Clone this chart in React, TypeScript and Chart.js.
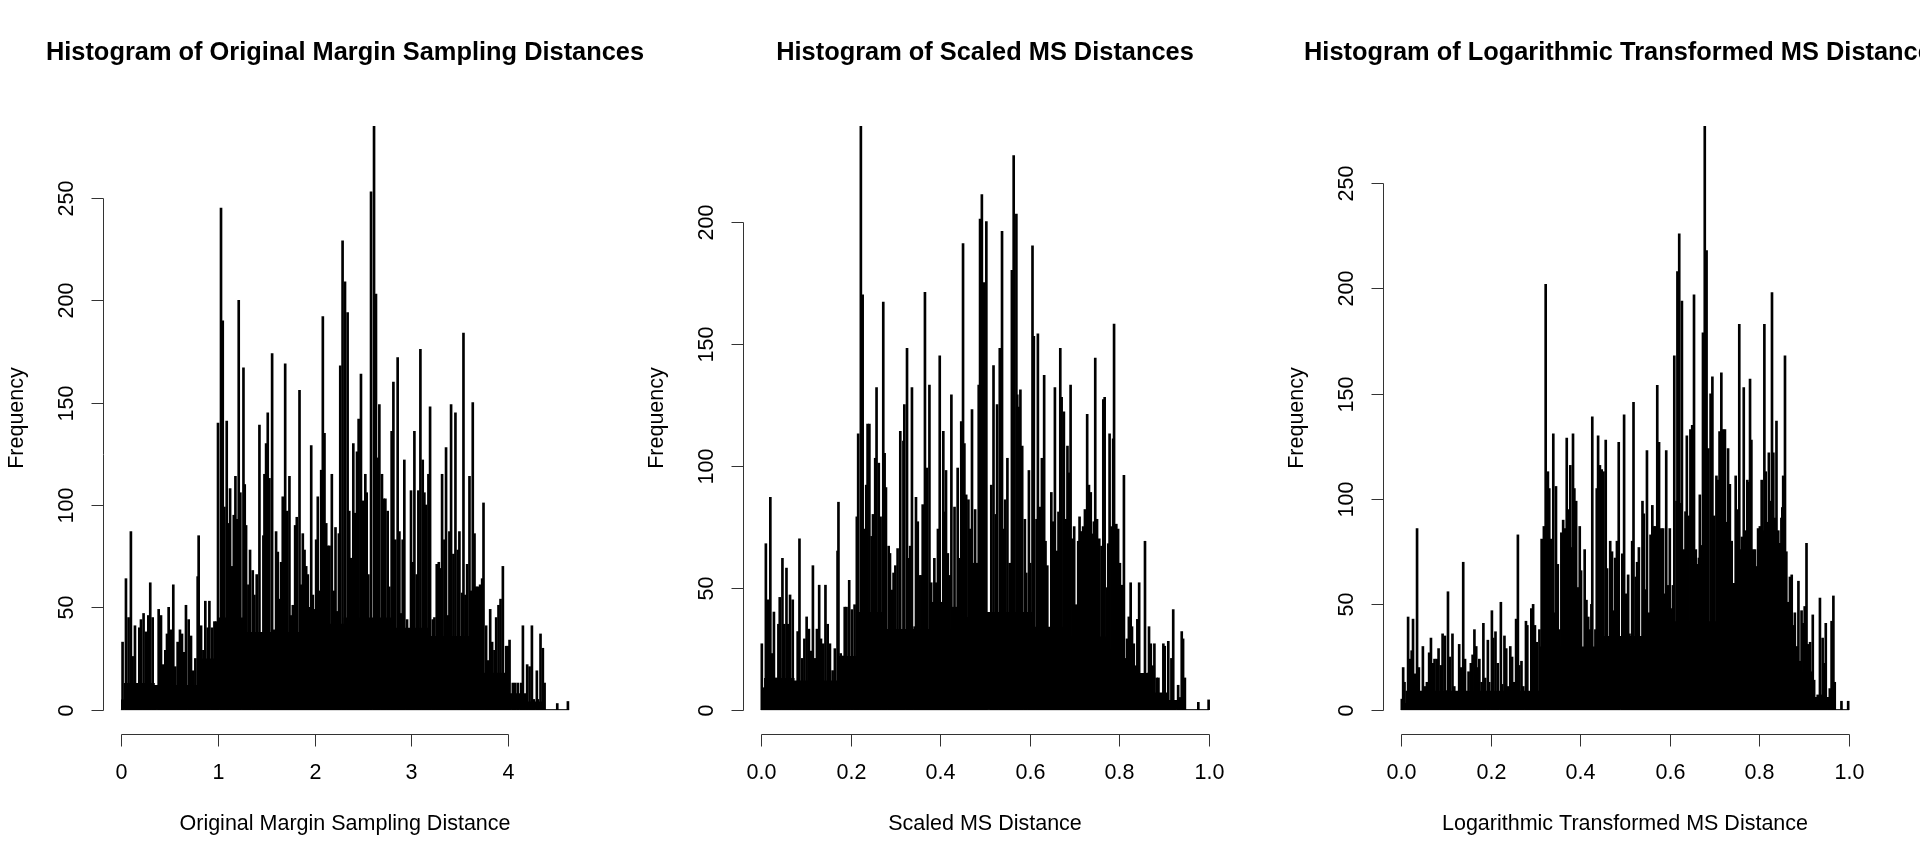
import { useEffect, useRef } from "react"
import { Chart, registerables } from "chart.js"

Chart.register(...registerables)

// ---- panel 1: original margin sampling distances ----
const origX = [
  0.017, 0.052, 0.079, 0.103, 0.121, 0.145, 0.166, 0.19, 0.207, 0.234, 0.259, 0.283, 0.303, 0.328, 0.355, 0.39, 0.414, 0.438, 0.459, 0.476,
  0.493, 0.517, 0.541, 0.562, 0.586, 0.61, 0.631, 0.655, 0.672, 0.7, 0.724, 0.748, 0.769, 0.793, 0.803, 0.828, 0.852, 0.872, 0.897, 0.914,
  0.941, 0.966, 0.983,
  1.003, 1.034, 1.052, 1.069, 1.093, 1.114, 1.128, 1.148, 1.166, 1.183, 1.197, 1.217, 1.234, 1.266, 1.279, 1.293, 1.317, 1.334, 1.362, 1.379,
  1.403, 1.431, 1.455, 1.472, 1.483, 1.5, 1.517, 1.534, 1.562, 1.579, 1.603, 1.621, 1.638, 1.655, 1.672, 1.697, 1.717, 1.741, 1.759, 1.776,
  1.8, 1.817, 1.845, 1.862, 1.879, 1.897, 1.914, 1.931, 1.955, 1.966, 1.983,
  2.0, 2.017, 2.034, 2.052, 2.069, 2.086, 2.103, 2.121, 2.138, 2.155, 2.179, 2.2, 2.217, 2.234, 2.252, 2.266, 2.29, 2.315, 2.342, 2.359,
  2.377, 2.401, 2.418, 2.439, 2.456, 2.48, 2.504, 2.525, 2.539, 2.556, 2.584, 2.615, 2.635, 2.653, 2.67, 2.697, 2.715, 2.732, 2.756, 2.773,
  2.797, 2.815, 2.835, 2.859, 2.877, 2.894, 2.911, 2.928, 2.956, 2.973, 2.997,
  3.015, 3.032, 3.056, 3.073, 3.094, 3.118, 3.135, 3.153, 3.177, 3.194, 3.222, 3.239, 3.263, 3.284, 3.297, 3.318, 3.342, 3.359, 3.377, 3.394,
  3.411, 3.435, 3.456, 3.48, 3.497, 3.525, 3.539, 3.559, 3.577, 3.601, 3.618, 3.635, 3.653, 3.67, 3.687, 3.711, 3.732, 3.746, 3.773, 3.79,
  3.815, 3.835, 3.859, 3.877, 3.901, 3.922, 3.946, 3.963, 3.98, 3.997,
  4.015, 4.049, 4.073, 4.101, 4.135, 4.153, 4.17, 4.197, 4.222, 4.246, 4.266, 4.297, 4.308, 4.335, 4.359, 4.377, 4.508, 4.618,
]
const origCount = [
  33, 64, 45, 87, 26, 41, 12, 40, 44, 47, 38, 46, 62, 45, 8, 49, 46, 22, 29, 37,
  50, 39, 61, 21, 33, 39, 37, 28, 51, 44, 36, 19, 25, 65, 85, 41, 29, 53, 40, 53,
  40, 43, 43,
  140, 245, 190, 99, 141, 91, 108, 70, 95, 114, 93, 200, 106, 167, 110, 90, 61, 78, 68, 56,
  66, 139, 19, 85, 115, 130, 145, 113, 174, 39, 87, 77, 54, 72, 104, 169, 97, 114, 46, 51,
  90, 94, 156, 61, 86, 78, 70, 66, 50, 129, 56,
  49, 83, 104, 58, 117, 192, 135, 91, 80, 80, 115, 58, 89, 48, 86, 168, 229, 209, 194, 97,
  74, 130, 96, 126, 142, 164, 102, 115, 106, 66, 253, 285, 203, 123, 149, 115, 103, 103, 97, 60,
  136, 160, 83, 172, 87, 47, 83, 122, 44, 29, 107,
  72, 136, 66, 107, 176, 122, 106, 100, 115, 148, 44, 45, 71, 72, 69, 115, 83, 128, 46, 87,
  149, 76, 145, 78, 87, 57, 184, 56, 71, 114, 58, 150, 86, 60, 60, 61, 64, 101, 41, 24,
  49, 33, 29, 45, 51, 54, 70, 11, 31, 31,
  34, 13, 13, 13, 13, 41, 6, 22, 21, 41, 5, 19, 5, 37, 30, 13, 3, 4,
]
// dense low part of the histogram (solid black under the spikes)
const origFillEdges = [0, 0.03, 0.35, 0.8, 1.0, 1.3, 1.6, 2.0, 2.3, 2.8, 3.2, 3.6, 3.75, 4.0, 4.2, 4.38]
const origFillLevel = [5, 13, 12, 25, 45, 38, 38, 42, 45, 40, 36, 30, 18, 8, 4]
const origRange = [0, 4.63]
const origXTicks = [0, 1, 2, 3, 4]
const origYTicks = [0, 50, 100, 150, 200, 250]

// ---- panel 2: scaled MS distances ----
const scaledX = [
  0.002, 0.006, 0.011, 0.016, 0.021, 0.025, 0.029, 0.034, 0.039, 0.042, 0.048, 0.052, 0.057, 0.06, 0.065, 0.071, 0.077, 0.082, 0.086, 0.092,
  0.097, 0.102, 0.107, 0.112, 0.116, 0.121, 0.125, 0.13, 0.134, 0.139, 0.144, 0.149, 0.154, 0.16, 0.165, 0.171, 0.173, 0.178, 0.182, 0.187,
  0.191, 0.197, 0.203, 0.209, 0.214, 0.217, 0.223, 0.227, 0.231, 0.235, 0.238, 0.242, 0.247, 0.25, 0.255, 0.258, 0.263, 0.267, 0.273, 0.276,
  0.279, 0.285, 0.288, 0.293, 0.296, 0.3, 0.305, 0.311, 0.314, 0.318, 0.32, 0.326, 0.33, 0.333, 0.337, 0.343, 0.346, 0.35, 0.354, 0.358,
  0.361, 0.366, 0.37, 0.376, 0.38, 0.384, 0.387, 0.391, 0.395, 0.399, 0.402, 0.407, 0.41, 0.413, 0.417, 0.421, 0.425, 0.428, 0.432, 0.436,
  0.439, 0.443, 0.447, 0.451, 0.454, 0.458, 0.463, 0.467, 0.471, 0.474, 0.478, 0.482, 0.486, 0.489, 0.493, 0.498, 0.503,
  0.514, 0.519, 0.524, 0.527, 0.533, 0.538, 0.542, 0.545, 0.55, 0.555, 0.56, 0.564, 0.57, 0.572, 0.576, 0.579, 0.583, 0.589, 0.592, 0.598,
  0.601, 0.606, 0.609, 0.615, 0.618, 0.622, 0.627, 0.632, 0.635, 0.639, 0.644, 0.648, 0.652, 0.656, 0.661, 0.664, 0.668, 0.671, 0.676, 0.68,
  0.684, 0.688, 0.691, 0.695, 0.699, 0.703, 0.708, 0.711, 0.715, 0.719, 0.723, 0.728, 0.732, 0.736, 0.74, 0.743, 0.746, 0.75, 0.755, 0.76,
  0.764, 0.767, 0.773, 0.775, 0.778, 0.782, 0.786, 0.788, 0.793, 0.797, 0.801, 0.805, 0.81, 0.814, 0.817, 0.821, 0.825, 0.828, 0.832, 0.837,
  0.84, 0.844, 0.848, 0.851, 0.853, 0.857, 0.86, 0.864, 0.866, 0.87, 0.874, 0.878, 0.883, 0.887, 0.89, 0.894, 0.898, 0.901, 0.905, 0.909,
  0.913, 0.916, 0.92, 0.924, 0.931, 0.935, 0.939, 0.942, 0.946, 0.976, 0.999,
]
const scaledCount = [
  27, 9, 68, 45, 87, 23, 40, 13, 35, 46, 62, 35, 58, 35, 47, 45, 8, 32, 70, 21,
  29, 38, 33, 24, 59, 21, 33, 51, 29, 27, 51, 35, 27, 16, 25, 65, 85, 23, 22, 42,
  42, 53, 41, 43, 79, 113, 239, 170, 74, 92, 117, 117, 71, 80, 103, 132, 101, 79, 167, 105,
  91, 67, 64, 49, 56, 59, 66, 114, 23, 110, 125, 148, 62, 67, 132, 34, 87, 77, 55, 55,
  84, 171, 99, 133, 52, 44, 62, 52, 74, 145, 44, 114, 81, 98, 64, 55, 129, 42, 83, 42,
  99, 62, 118, 191, 109, 88, 86, 74, 123, 60, 82, 60, 133, 201, 211, 175, 200,
  92, 141, 80, 125, 148, 196, 74, 86, 103, 60, 180, 227, 203, 129, 124, 131, 108, 78, 56, 98,
  60, 190, 153, 78, 154, 83, 103, 137, 69, 59, 26, 89, 77, 132, 65, 81, 148, 128, 122, 78,
  108, 97, 133, 70, 75, 43, 69, 79, 73, 75, 82, 121, 92, 89, 72, 77, 144, 78, 70, 67,
  127, 128, 50, 68, 113, 75, 111, 158, 76, 74, 60, 51, 96, 21, 29, 38, 52, 34, 27, 18,
  37, 52, 11, 9, 9, 69, 12, 15, 34, 27, 18, 27, 13, 13, 6, 2, 27, 26, 4, 28,
  2, 21, 41, 2, 10, 5, 32, 29, 13, 3, 4,
]
const scaledFillEdges = [0, 0.007, 0.075, 0.173, 0.216, 0.28, 0.346, 0.432, 0.497, 0.605, 0.69, 0.777, 0.81, 0.864, 0.907, 0.946]
const scaledFillLevel = [5, 13, 12, 22, 40, 33, 33, 38, 40, 34, 30, 25, 15, 7, 4]
const scaledRange = [0, 1]
const unitXTicks = [0, 0.2, 0.4, 0.6, 0.8, 1.0]
const scaledYTicks = [0, 50, 100, 150, 200]

// ---- panel 3: logarithmic transformed MS distances ----
const logX = [
  0.002, 0.005, 0.008, 0.011, 0.016, 0.02, 0.024, 0.027, 0.031, 0.036, 0.04, 0.045, 0.049, 0.053, 0.058, 0.063, 0.067, 0.071, 0.075, 0.08,
  0.084, 0.089, 0.093, 0.098, 0.101, 0.105, 0.109, 0.115, 0.119, 0.124, 0.13, 0.134, 0.139, 0.143, 0.147, 0.151, 0.156, 0.16, 0.164, 0.168,
  0.171, 0.175, 0.18, 0.184, 0.188, 0.194, 0.197, 0.203, 0.206, 0.211, 0.216, 0.223, 0.226, 0.231, 0.235, 0.239, 0.244, 0.248, 0.253, 0.257,
  0.261, 0.264, 0.269, 0.273, 0.279, 0.282, 0.287, 0.291, 0.295, 0.299, 0.303, 0.309, 0.314, 0.319, 0.323, 0.326, 0.328, 0.331, 0.335, 0.34,
  0.343, 0.346, 0.35, 0.354, 0.358, 0.362, 0.366, 0.37, 0.374, 0.378, 0.38, 0.384, 0.387, 0.391, 0.395, 0.399, 0.402, 0.406, 0.41, 0.414,
  0.418, 0.421, 0.425, 0.427, 0.431, 0.434, 0.437, 0.44, 0.444, 0.448, 0.452, 0.457, 0.46, 0.463, 0.467, 0.471, 0.474, 0.478, 0.482, 0.486,
  0.494, 0.498, 0.503, 0.507, 0.51, 0.516, 0.519, 0.524, 0.527, 0.531, 0.534, 0.539, 0.542, 0.546, 0.549, 0.554, 0.557, 0.561, 0.565, 0.568,
  0.572, 0.576, 0.581, 0.585, 0.589, 0.592, 0.596, 0.6, 0.603, 0.607, 0.61, 0.615, 0.617, 0.621, 0.624, 0.627, 0.631, 0.635, 0.638, 0.642,
  0.646, 0.65, 0.654, 0.658, 0.661, 0.665, 0.667, 0.67, 0.674, 0.678, 0.682, 0.686, 0.691, 0.695, 0.699, 0.704, 0.708, 0.711, 0.715, 0.719,
  0.723, 0.726, 0.73, 0.734, 0.738, 0.743, 0.747, 0.751, 0.755, 0.758, 0.761, 0.765, 0.769, 0.773, 0.776, 0.779, 0.782, 0.786, 0.79, 0.793,
  0.797, 0.801, 0.805, 0.808, 0.811, 0.814, 0.817, 0.821, 0.824, 0.828, 0.831, 0.835, 0.838, 0.842, 0.846, 0.849, 0.851, 0.853, 0.857, 0.86,
  0.864, 0.868, 0.872, 0.875, 0.879, 0.883, 0.887, 0.89, 0.894, 0.898, 0.901, 0.905, 0.909, 0.913, 0.916, 0.919, 0.922, 0.926, 0.93, 0.935,
  0.939, 0.941, 0.945, 0.948, 0.954, 0.957, 0.961, 0.965, 0.968, 0.983, 0.998,
]
const logCount = [
  5, 20, 13, 3, 44, 24, 28, 43, 17, 86, 20, 5, 30, 11, 13, 27, 34, 22, 24, 24,
  29, 21, 36, 35, 9, 56, 25, 36, 11, 8, 31, 20, 70, 24, 6, 18, 22, 26, 38, 30,
  20, 24, 13, 41, 15, 33, 13, 47, 34, 37, 22, 51, 12, 35, 29, 11, 30, 25, 13, 43,
  83, 21, 23, 11, 42, 40, 8, 48, 50, 40, 32, 38, 81, 87, 202, 100, 113, 105, 81, 131,
  46, 106, 69, 38, 84, 90, 86, 129, 95, 116, 77, 131, 105, 99, 58, 87, 66, 18, 76, 52,
  44, 38, 50, 139, 23, 38, 105, 130, 116, 114, 113, 128, 67, 34, 80, 75, 47, 72, 80, 127,
  74, 140, 55, 64, 36, 80, 146, 63, 70, 77, 34, 99, 93, 57, 123, 46, 83, 97, 87, 87,
  154, 127, 86, 86, 55, 123, 59, 86, 48, 59, 168, 99, 208, 226, 98, 194, 76, 94, 130, 92,
  133, 135, 197, 76, 69, 72, 102, 78, 179, 277, 218, 124, 150, 158, 92, 111, 109, 132, 160, 133,
  133, 89, 124, 107, 80, 60, 111, 95, 183, 76, 82, 153, 85, 109, 108, 157, 128, 76, 76, 68,
  86, 87, 109, 85, 183, 113, 89, 122, 99, 198, 122, 91, 137, 85, 79, 91, 96, 111, 168, 75,
  51, 63, 64, 40, 46, 30, 61, 23, 47, 41, 49, 79, 31, 32, 18, 45, 14, 5, 7, 53,
  7, 34, 22, 41, 4, 10, 42, 54, 13, 4, 4,
]
const logFillEdges = [0, 0.01, 0.31, 0.45, 0.55, 0.75, 0.85, 0.9, 0.97]
const logFillLevel = [3, 9, 30, 35, 42, 36, 18, 6]
const logRange = [0, 1]
const logYTicks = [0, 50, 100, 150, 200, 250]

const FONT = '"Liberation Sans", Arial, Helvetica, sans-serif'
const PANEL_W = 640
const OVERHANG = 60 // extra canvas width so long titles are not clipped

type PanelCfg = {
  title: string
  xTitle: string
  xs: number[]
  counts: number[]
  fillEdges: number[]
  fillLevel: number[]
  range: number[]
  xTicks: number[]
  yTicks: number[]
  decimals: number
}

const panels: PanelCfg[] = [
  {
    title: "Histogram of Original Margin Sampling Distances",
    xTitle: "Original Margin Sampling Distance",
    xs: origX, counts: origCount, fillEdges: origFillEdges, fillLevel: origFillLevel,
    range: origRange, xTicks: origXTicks, yTicks: origYTicks, decimals: 0,
  },
  {
    title: "Histogram of Scaled MS Distances",
    xTitle: "Scaled MS Distance",
    xs: scaledX, counts: scaledCount, fillEdges: scaledFillEdges, fillLevel: scaledFillLevel,
    range: scaledRange, xTicks: unitXTicks, yTicks: scaledYTicks, decimals: 1,
  },
  {
    title: "Histogram of Logarithmic Transformed MS Distances",
    xTitle: "Logarithmic Transformed MS Distance",
    xs: logX, counts: logCount, fillEdges: logFillEdges, fillLevel: logFillLevel,
    range: logRange, xTicks: unitXTicks, yTicks: logYTicks, decimals: 1,
  },
]

// R base graphics style axes, drawn through the chart scales
const rAxes = {
  id: "rAxes",
  afterDraw(chart: any, _args: any, opts: any) {
    const { ctx, chartArea } = chart
    const xs = chart.scales.x
    const ys = chart.scales.y
    const tick = 12
    ctx.save()
    ctx.strokeStyle = "#333"
    ctx.fillStyle = "#000"
    ctx.lineWidth = 1

    // x axis
    const axY = Math.round(chartArea.bottom) + 1.5
    const xPix = opts.xTicks.map((v: number) => Math.round(xs.getPixelForValue(v)) + 0.5)
    ctx.beginPath()
    ctx.moveTo(xPix[0], axY)
    ctx.lineTo(xPix[xPix.length - 1], axY)
    xPix.forEach((px: number) => {
      ctx.moveTo(px, axY)
      ctx.lineTo(px, axY + tick)
    })
    ctx.stroke()
    ctx.font = `21.5px ${FONT}`
    ctx.textAlign = "center"
    ctx.textBaseline = "middle"
    opts.xTicks.forEach((v: number, i: number) => {
      ctx.fillText(v.toFixed(opts.decimals), xPix[i], chartArea.bottom + 40)
    })
    ctx.fillText(opts.xTitle, (chartArea.left + chartArea.right) / 2, chartArea.bottom + 91)

    // y axis
    const axX = Math.round(chartArea.left) + 0.5
    const yPix = opts.yTicks.map((v: number) => Math.round(ys.getPixelForValue(v)) + 0.5)
    ctx.beginPath()
    ctx.moveTo(axX, yPix[0])
    ctx.lineTo(axX, yPix[yPix.length - 1])
    yPix.forEach((py: number) => {
      ctx.moveTo(axX, py)
      ctx.lineTo(axX - tick, py)
    })
    ctx.stroke()
    opts.yTicks.forEach((v: number, i: number) => {
      ctx.save()
      ctx.translate(chartArea.left - 36, yPix[i])
      ctx.rotate(-Math.PI / 2)
      ctx.fillText(String(v), 0, 0)
      ctx.restore()
    })
    ctx.save()
    ctx.translate(chartArea.left - 86, (chartArea.top + chartArea.bottom) / 2)
    ctx.rotate(-Math.PI / 2)
    ctx.fillText("Frequency", 0, 0)
    ctx.restore()

    // main title
    ctx.font = `bold 25.4px ${FONT}`
    ctx.fillText(opts.title, (chartArea.left + chartArea.right) / 2, 53)
    ctx.restore()
  },
}

function HistPanel({ cfg }: { cfg: PanelCfg }) {
  const canvasRef = useRef<HTMLCanvasElement>(null)

  useEffect(() => {
    if (!canvasRef.current) return
    const [lo, hi] = cfg.range
    const span = hi - lo
    const maxCount = Math.max(...cfg.counts)

    const spikes = cfg.xs.map((x, i) => ({ x, y: cfg.counts[i] }))
    const fill = cfg.fillEdges.map((x, i) => ({ x, y: i < cfg.fillLevel.length ? cfg.fillLevel[i] : 0 }))
    const baseline = [{ x: lo, y: 0 }, { x: hi, y: 0 }]

    const chart = new Chart(canvasRef.current, {
      type: "bar",
      data: {
        datasets: [
          {
            type: "line",
            data: fill,
            // horizontal first at the previous level, then down/up at the next edge
            stepped: "before",
            fill: "origin",
            backgroundColor: "#000",
            borderWidth: 0,
            pointRadius: 0,
          } as any,
          {
            type: "bar",
            data: spikes,
            backgroundColor: "#000",
            barThickness: 2,
            grouped: false,
          } as any,
          {
            type: "line",
            data: baseline,
            borderColor: "#000",
            borderWidth: 1,
            pointRadius: 0,
            fill: false,
          } as any,
        ],
      },
      options: {
        responsive: false,
        devicePixelRatio: 1,
        animation: false,
        events: [],
        layout: { padding: { left: 103, right: 53 + OVERHANG, top: 103, bottom: 131 } },
        scales: {
          x: {
            type: "linear",
            display: false,
            offset: false,
            min: lo - 0.04 * span,
            max: hi + 0.04 * span,
          },
          y: {
            type: "linear",
            display: false,
            min: -0.04 * maxCount,
            max: maxCount * 1.04,
          },
        },
        plugins: {
          legend: { display: false },
          tooltip: { enabled: false },
          rAxes: {
            title: cfg.title,
            xTitle: cfg.xTitle,
            xTicks: cfg.xTicks,
            yTicks: cfg.yTicks,
            decimals: cfg.decimals,
          },
        } as any,
      },
      plugins: [rAxes],
    })

    return () => {
      chart.destroy()
    }
  }, [cfg])

  return (
    <canvas
      ref={canvasRef}
      width={PANEL_W + OVERHANG}
      height={864}
      style={{ width: PANEL_W + OVERHANG, height: 864, display: "block", flex: "none", marginRight: -OVERHANG }}
    />
  )
}

export default function App() {
  return (
    <div
      style={{
        position: "fixed",
        left: 0,
        top: 0,
        width: 1920,
        height: 864,
        display: "flex",
        background: "#fff",
        overflow: "hidden",
      }}
    >
      {panels.map((p) => (
        <HistPanel key={p.title} cfg={p} />
      ))}
    </div>
  )
}
